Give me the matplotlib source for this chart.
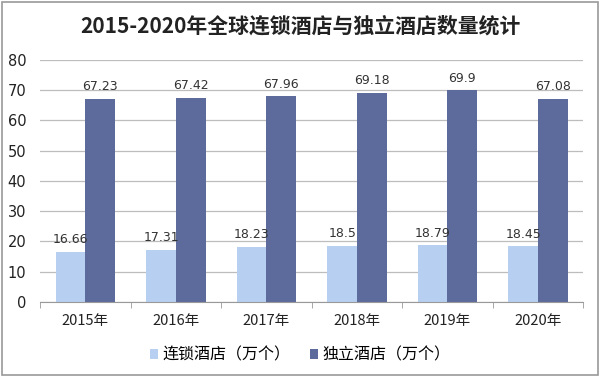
import numpy as np
import matplotlib.pyplot as plt
from matplotlib.patches import Rectangle

plt.rcParams['font.family'] = ['Noto Sans CJK SC', 'DejaVu Sans']

years = ["2015年", "2016年", "2017年", "2018年", "2019年", "2020年"]
chain = [16.66, 17.31, 18.23, 18.5, 18.79, 18.45]
indep = [67.23, 67.42, 67.96, 69.18, 69.9, 67.08]
yticks = [0, 10, 20, 30, 40, 50, 60, 70, 80]

c_light = "#b7cff0"
c_dark = "#5d6b9c"

fig = plt.figure(figsize=(6, 3.77), dpi=100)
ax = fig.add_axes([0.067, 0.199, 0.905, 0.642])

x = np.arange(len(years))
w = 0.327
b1 = ax.bar(x - w / 2, chain, w, color=c_light, label="连锁酒店（万个）", zorder=2)
b2 = ax.bar(x + w / 2, indep, w, color=c_dark, label="独立酒店（万个）", zorder=2)

# подписи значений над столбцами
for bars, vals in ((b1, chain), (b2, indep)):
    for r, v in zip(bars, vals):
        ax.annotate(f"{v:g}", (r.get_x() + r.get_width() / 2, v),
                    xytext=(0, 4), textcoords="offset points",
                    ha="center", va="bottom", fontsize=9, color="#333333",
                    family="DejaVu Sans")

ax.set_xlim(-0.5, len(years) - 0.5)
ax.set_ylim(0, 80)
ax.set_yticks(yticks)
ax.yaxis.grid(True, color="#bdbdbd", linewidth=0.9, zorder=0)
ax.set_axisbelow(True)
ax.tick_params(axis="y", length=0, labelsize=10.5, colors="#222222", pad=10)
for lab in ax.get_yticklabels():
    lab.set_family("DejaVu Sans")

ax.set_xticks(x)
ax.set_xticklabels(years, fontsize=10.5, color="#222222")
ax.tick_params(axis="x", which="major", length=0, pad=9)
ax.set_xticks(np.arange(-0.5, len(years)), minor=True)
ax.tick_params(axis="x", which="minor", length=4, color="#999999", direction="out")

for s in ("top", "right", "left"):
    ax.spines[s].set_visible(False)
ax.spines["bottom"].set_color("#999999")

fig.suptitle("2015-2020年全球连锁酒店与独立酒店数量统计", y=0.96,
             fontsize=15, fontweight="bold", color="#222222")

fig.legend(handles=[b1, b2], loc="center", bbox_to_anchor=(0.5, 0.058),
           ncol=2, frameon=False, fontsize=11.5, handlelength=0.5,
           handleheight=0.5, handletextpad=0.3, columnspacing=1.2)

fig.patches.append(Rectangle((0.003, 0.005), 0.993, 0.99, transform=fig.transFigure,
                             fill=False, edgecolor="#999999", linewidth=1.2))

fig.savefig("out.png", dpi=100)
